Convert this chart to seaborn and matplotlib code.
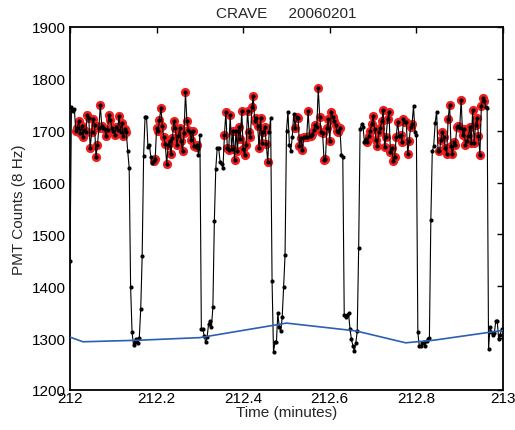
import numpy as np
import pandas as pd
import matplotlib
matplotlib.use("Agg")
import matplotlib.pyplot as plt
import seaborn as sns

# ---------------- data ----------------
samples_per_minute = 300
start_time = 212.0

trans_a = [1448, 1745, 1738, 1742]
sky_1 = [1700, 1705, 1718, 1695, 1710, 1688, 1702, 1698, 1731, 1724, 1667, 1697,
         1722, 1711, 1649, 1672, 1705, 1749, 1710, 1706, 1704, 1689, 1702, 1730,
         1721, 1705, 1699, 1692, 1708, 1702, 1729, 1698, 1715, 1690, 1703, 1697]
trans_b = [1660, 1629, 1398, 1311, 1287, 1292, 1298, 1290, 1300, 1356, 1458, 1652,
           1727, 1727, 1669, 1672, 1650, 1638]
sky_2 = [1642, 1645, 1705, 1699, 1721, 1744, 1709, 1687, 1674, 1636, 1672, 1681,
         1655, 1686, 1719, 1706, 1672, 1689, 1705, 1680, 1660, 1696, 1774, 1719,
         1702, 1698, 1683, 1700, 1670, 1668, 1672]
trans_c = [1654, 1692, 1317, 1317, 1305, 1292, 1302, 1327, 1333, 1321, 1360, 1525,
           1627, 1667, 1667, 1640, 1635, 1629]
sky_3 = [1692, 1736, 1667, 1663, 1730, 1665, 1700, 1644, 1699, 1661, 1708, 1684,
         1738, 1665, 1653, 1672, 1738, 1698, 1688, 1745, 1766, 1718, 1724, 1710,
         1667, 1724, 1677, 1698, 1708, 1674, 1640]
trans_d = [1698, 1725, 1410, 1273, 1292, 1292, 1348, 1321, 1313, 1340, 1398, 1461,
           1700, 1737, 1673, 1661, 1688, 1733]
sky_4 = [1706, 1727, 1725, 1671, 1686, 1663, 1687, 1688, 1688, 1738, 1689, 1690,
         1693, 1701, 1711, 1708, 1782, 1727, 1698, 1695, 1644, 1646, 1706, 1722,
         1680, 1737, 1727, 1718, 1711, 1700, 1698, 1706]
trans_e = [1654, 1650, 1344, 1340, 1344, 1348, 1317, 1298, 1285, 1275, 1290, 1313,
           1473, 1704, 1712, 1708, 1679, 1684]
sky_5 = [1679, 1690, 1700, 1713, 1728, 1704, 1683, 1671, 1697, 1706, 1718, 1740,
         1669, 1688, 1722, 1737, 1659, 1667, 1641, 1650, 1688, 1717, 1690, 1692,
         1679, 1723, 1716, 1717, 1655, 1681, 1708, 1713]
trans_f = [1748, 1698, 1692, 1311, 1285, 1285, 1290, 1292, 1285, 1294, 1298, 1300,
           1527, 1660, 1671, 1715, 1737, 1660]
sky_6 = [1660, 1683, 1697, 1688, 1667, 1655, 1723, 1750, 1670, 1655, 1678, 1673,
         1707, 1709, 1705, 1760, 1692, 1703, 1673, 1680, 1690, 1707, 1677, 1740,
         1677, 1711, 1725, 1690, 1654, 1747, 1763, 1757]
trans_g = [1746, 1744, 1279, 1321, 1312, 1306, 1310, 1333, 1333, 1298, 1306, 1318]

base_time = [212.0, 212.03, 212.16, 212.30, 212.50, 212.66, 212.775, 212.84, 213.0]
base_counts = [1302, 1293, 1296, 1301, 1329, 1314, 1291, 1296, 1315]

x_ticks = [212.0, 212.2, 212.4, 212.6, 212.8, 213.0]
x_tick_labels = ["212", "212.2", "212.4", "212.6", "212.8", "213"]
y_ticks = [1200, 1300, 1400, 1500, 1600, 1700, 1800, 1900]

pieces = [("transition", trans_a), ("sky", sky_1), ("transition", trans_b),
          ("sky", sky_2), ("transition", trans_c), ("sky", sky_3),
          ("transition", trans_d), ("sky", sky_4), ("transition", trans_e),
          ("sky", sky_5), ("transition", trans_f), ("sky", sky_6),
          ("transition", trans_g)]

counts, state = [], []
for name, vals in pieces:
    counts += vals
    state += [name] * len(vals)
time = start_time + np.arange(len(counts)) / samples_per_minute
df = pd.DataFrame({"time": time, "counts": counts, "state": state})
base_df = pd.DataFrame({"time": base_time, "counts": base_counts})

# ---------------- plot ----------------
sns.set_style("white")
plt.rcParams["font.family"] = ["Liberation Sans", "DejaVu Sans"]

fig = plt.figure(figsize=(5.15, 4.31), dpi=100)
W, H = 515, 431
ax = fig.add_axes([70 / W, 1 - 391 / H, 433 / W, (391 - 28) / H])

sns.scatterplot(data=df[df["state"] == "sky"], x="time", y="counts",
                color="#f01e1e", s=44, linewidth=0, ax=ax, zorder=2, legend=False)
sns.lineplot(data=df, x="time", y="counts", color="black", lw=0.8,
             marker="o", markersize=3.0, markeredgewidth=0,
             sort=False, estimator=None, ax=ax, zorder=3)
sns.lineplot(data=base_df, x="time", y="counts", color="#2c5fb4", lw=1.2,
             sort=False, estimator=None, ax=ax, zorder=4)

ax.set_xlim(212, 213)
ax.set_ylim(1200, 1900)
ax.set_xticks(x_ticks)
ax.set_xticklabels(x_tick_labels)
ax.set_yticks(y_ticks)
ax.tick_params(direction="in", top=True, right=True, length=4, width=1,
               labelsize=11, colors="black")
ax.tick_params(axis="x", pad=0.5)
ax.tick_params(axis="y", pad=3)
for sp in ax.spines.values():
    sp.set_visible(True)
    sp.set_color("black")
    sp.set_linewidth(1.3)

ax.set_xlabel("Time (minutes)", fontsize=11, labelpad=0)
ax.set_ylabel("PMT Counts (8 Hz)", fontsize=11, labelpad=4)
ax.set_title("CRAVE     20060201", fontsize=11, pad=7)

fig.savefig("out.png", dpi=100, facecolor="white")
